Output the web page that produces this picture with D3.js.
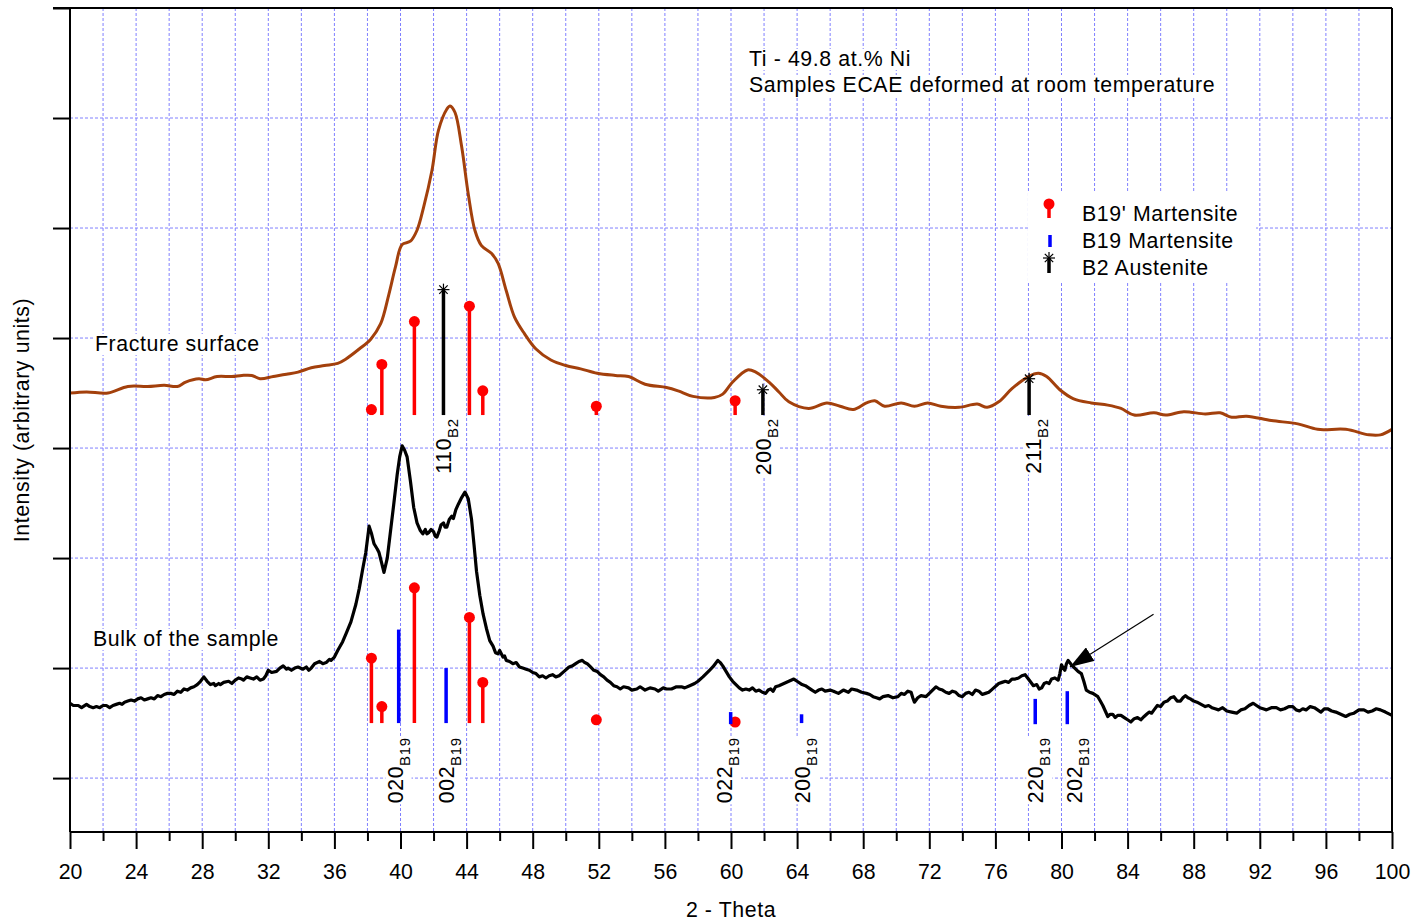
<!DOCTYPE html>
<html>
<head>
<meta charset="utf-8">
<script src="https://cdn.jsdelivr.net/npm/d3@7"></script>
<style>
  html, body { margin: 0; padding: 0; background: #fff; }
  svg { display: block; font-family: Arial, "Liberation Sans", sans-serif; }
</style>
</head>
<body>
<svg id="chart" width="1416" height="923"></svg>
<script>
// ---------------- DATA ----------------
const xTicks = [20,24,28,32,36,40,44,48,52,56,60,64,68,72,76,80,84,88,92,96,100];
const xMinorTicks = [22,26,30,34,38,42,46,50,54,58,62,66,70,74,78,82,86,90,94,98];
const yTicks = [0,100,200,300,400,500,600,700];

// Fracture surface pattern (2-theta, intensity)
const fractureCurve = [
  [20,350],[21,351],[22.3,350],[23.5,356],[24.7,356],[25.7,357],[26.5,356],[27,360],[27.8,363],[28.2,362],
  [28.9,365],[29.8,365],[30.4,366],[31,366],[31.5,363],[32.3,365],[33.1,367],[33.8,369],[34.6,373],[35.4,375],
  [36.2,377],[36.7,381],[37.5,390],[38.2,399],[38.8,413],[39.3,440],[39.7,465],[40.1,485],[40.6,488],[41.0,498],
  [41.4,519],[41.9,552],[42.3,589],[42.8,608],[43.0,611],[43.3,605],[43.7,574],[44.1,531],[44.5,498],[44.9,484],
  [45.5,477],[45.9,468],[46.4,443],[46.9,419],[47.5,404],[48.2,390],[49.1,380],[50,375],[50.9,372],[51.9,368],
  [53.0,366],[53.8,365],[54.8,358],[56.1,355],[56.8,352],[57.7,347],[59.0,346],[59.5,349],[60.1,360],[61.0,371],
  [61.5,369],[62.3,360],[62.9,351],[63.5,342],[64.7,336],[65.8,341],[66.6,338],[67.4,335],[68.2,341],[68.7,343],
  [69.3,338],[70.3,341],[71.1,338],[71.9,341],[72.7,338],[73.8,337],[74.9,340],[75.5,337],[76.2,342],[77.0,354],
  [78.0,365],[78.6,368],[79.1,365],[79.9,353],[80.7,345],[81.8,341],[82.8,339],[83.6,336],[84.4,330],[85.6,332],
  [86.3,330],[87.4,333],[88.7,331],[89.6,332],[90.3,328],[91.2,329],[92.7,325],[94.3,322],[95.5,317],[97.2,317],
  [98.6,312],[99.3,312],[100,317]
];

// Bulk of the sample pattern (2-theta, intensity)
const bulkCurve = [
  [20,68],[20.2,66],[20.5,66],[20.7,64],[21,67],[21.2,65],[21.4,64],[21.6,65],[21.8,64],[22.0,66],[22.2,66],[22.4,64],
  [22.6,66],[22.8,67],[23.0,68],[23.15,67],[23.3,69],[23.5,70],[23.7,71],[23.9,70],[24.1,72],[24.3,73],[24.5,71],
  [24.7,72],[24.9,73],[25.1,72],[25.3,75],[25.5,74],[25.7,76],[25.9,77],[26.1,77],[26.3,76],[26.5,79],[26.7,78],
  [26.9,81],[27.1,80],[27.3,82],[27.5,83],[27.7,85],[27.9,88],[28.1,92],[28.3,88],[28.5,85],[28.7,86],[28.8,84],
  [29.0,86],[29.1,85],[29.3,87],[29.6,88],[29.8,86],[30.0,89],[30.2,91],[30.4,90],[30.5,89],[30.7,92],[30.9,91],
  [31.1,90],[31.3,92],[31.5,89],[31.7,90],[31.85,93],[32.0,98],[32.2,96],[32.5,97],[32.7,100],[32.9,102],[33.1,99],
  [33.2,100],[33.4,98],[33.6,100],[33.8,101],[34.1,99],[34.3,101],[34.45,98],[34.6,100],[34.8,104],[35.1,106],
  [35.3,104],[35.5,105],[35.7,108],[35.8,107],[36.0,110],[36.2,116],[36.5,124],[36.7,131],[37.0,142],[37.3,158],
  [37.5,172],[37.7,189],[37.9,205],[38.1,229],[38.25,222],[38.4,213],[38.6,208],[38.7,205],[38.85,196],[39.0,187],
  [39.2,200],[39.4,225],[39.6,250],[39.8,276],[39.95,292],[40.1,302],[40.25,298],[40.4,292],[40.6,270],[40.8,246],
  [41.0,232],[41.2,225],[41.35,222],[41.5,226],[41.6,222],[41.7,223],[41.85,226],[42.0,224],[42.1,220],[42.2,219],
  [42.35,225],[42.45,230],[42.6,232],[42.7,228],[42.8,228],[42.95,235],[43.1,238],[43.2,236],[43.35,244],[43.5,249],
  [43.7,255],[43.9,260],[44.1,254],[44.3,235],[44.45,212],[44.6,188],[44.8,166],[45.0,149],[45.2,136],[45.4,125],
  [45.6,120],[45.75,114],[45.9,113],[46.0,116],[46.2,110],[46.3,111],[46.4,107],[46.6,106],[46.8,104],[47.0,105],
  [47.2,101],[47.4,100],[47.6,99],[47.8,98],[48.0,96],[48.2,95],[48.4,92],[48.6,93],[48.8,91],[49.0,93],[49.2,94],
  [49.4,92],[49.6,93],[49.9,97],[50.2,101],[50.4,102],[50.6,104],[50.8,106],[51.0,107],[51.15,105],[51.3,104],
  [51.5,101],[51.7,98],[51.9,97],[52.1,94],[52.3,92],[52.5,89],[52.7,87],[52.9,84],[53.1,83],[53.3,81],[53.5,83],
  [53.8,82],[54.0,80],[54.3,81],[54.5,83],[54.8,80],[55.1,82],[55.4,81],[55.6,79],[55.9,82],[56.1,81],[56.4,81],
  [56.7,83],[57.0,83],[57.2,82],[57.5,84],[57.8,86],[58.0,88],[58.3,92],[58.5,95],[58.7,98],[58.9,101],[59.05,104],
  [59.2,107],[59.35,105],[59.5,102],[59.7,97],[59.9,92],[60.1,88],[60.3,85],[60.5,82],[60.7,80],[60.9,81],[61.1,80],
  [61.3,82],[61.5,79],[61.7,80],[61.9,78],[62.1,77],[62.25,80],[62.4,81],[62.55,79],[62.7,83],[62.9,84],[63.2,86],
  [63.5,88],[63.8,90],[64.0,88],[64.3,85],[64.5,84],[64.7,82],[64.9,80],[65.1,78],[65.3,80],[65.5,81],[65.7,79],
  [66.0,80],[66.2,79],[66.5,77],[66.8,80],[67.1,78],[67.3,81],[67.6,80],[67.9,78],[68.2,77],[68.4,76],[68.6,74],
  [68.8,73],[69.0,72],[69.2,74],[69.5,75],[69.8,73],[70.1,74],[70.3,77],[70.5,76],[70.7,79],[70.9,78],[71.0,73],
  [71.1,69],[71.3,73],[71.5,75],[71.8,74],[72.0,77],[72.2,80],[72.4,83],[72.6,81],[72.8,80],[73.0,78],[73.2,77],
  [73.4,79],[73.6,78],[73.8,75],[74.0,74],[74.2,77],[74.4,78],[74.6,76],[74.8,80],[75.0,79],[75.2,76],[75.4,77],
  [75.6,78],[75.75,80],[75.9,82],[76.05,84],[76.2,86],[76.4,87],[76.6,88],[76.8,87],[77.0,90],[77.2,90],[77.4,91],
  [77.6,93],[77.8,94],[77.95,91],[78.1,88],[78.3,84],[78.5,85],[78.65,81],[78.8,82],[78.95,86],[79.1,87],[79.25,86],
  [79.4,90],[79.6,91],[79.8,89],[79.9,95],[80.0,103],[80.1,100],[80.2,98],[80.3,104],[80.4,107],[80.6,103],
  [80.8,100],[81.0,97],[81.2,95],[81.35,88],[81.5,80],[81.7,78],[81.9,77],[82.2,74],[82.35,70],[82.5,66],[82.65,61],
  [82.8,56],[82.95,58],[83.1,58],[83.25,55],[83.4,57],[83.6,57],[83.8,55],[84.0,53],[84.2,51],[84.4,54],[84.6,55],
  [84.8,53],[85.0,56],[85.15,58],[85.3,60],[85.45,59],[85.6,62],[85.8,66],[86.0,65],[86.2,69],[86.4,70],[86.6,73],
  [86.8,74],[87.0,70],[87.2,70],[87.35,73],[87.5,75],[87.65,73],[87.8,72],[88.0,70],[88.2,69],[88.45,67],[88.7,65],
  [88.9,66],[89.1,64],[89.3,63],[89.5,62],[89.75,64],[90.0,61],[90.3,60],[90.6,59],[90.85,62],[91.1,63],[91.35,66],
  [91.6,68],[91.8,66],[92.0,64],[92.2,63],[92.4,62],[92.7,64],[93.0,64],[93.25,62],[93.5,63],[93.75,65],[94.0,65],
  [94.2,62],[94.4,61],[94.6,63],[94.8,62],[95.05,65],[95.3,64],[95.5,62],[95.7,60],[95.9,63],[96.1,63],[96.35,61],
  [96.6,60],[96.9,58],[97.2,56],[97.45,58],[97.7,59],[98.0,62],[98.3,62],[98.55,60],[98.8,61],[99.05,63],[99.3,62],
  [99.6,60],[100,57]
];

// B19' martensite reflections (2-theta) and stick top intensities
const b19pTheta = [38.24, 38.87, 40.84, 44.17, 44.98, 51.85, 60.25];
const b19pFracture = [335, 376, 415, 429, 352, 338, 343];
const b19pBulk = [109, 65, 173, 146, 87, 53, 51];
const fractureBase = 330;
const bulkBase = 50;

// B19 martensite reflections (bulk)
const b19Theta = [39.89, 42.76, 59.98, 64.27, 78.41, 80.35];
const b19Top = [135, 100, 60, 58, 72, 79];
const b19Bottom = [50, 50, 49, 50, 49, 49];

// B2 austenite reflections (fracture)
const b2Theta = [42.6, 61.93, 78.04];
const b2Top = [444, 353, 363];

// Reflection labels
const labelMain = ["110", "200", "211", "020", "002", "022", "200", "220", "202"];
const labelSub  = ["B2", "B2", "B2", "B19", "B19", "B19", "B19", "B19", "B19"];
const labelTheta = [42.57, 61.94, 78.27, 39.65, 42.78, 59.6, 64.33, 78.43, 80.79];
const labelEnd = [327, 327, 327, 37, 37, 37, 37, 37, 37];

// Arrow annotation (from, to) in data units
const arrowFrom = [85.57, 149];
const arrowTo = [80.51, 101];

const legendItems = ["B19' Martensite", "B19 Martensite", "B2 Austenite"];
const titleLines = ["Ti - 49.8 at.% Ni", "Samples ECAE deformed at room temperature"];

// ---------------- CHART ----------------
const svg = d3.select("#chart");
const x = d3.scaleLinear().domain([20, 100]).range([70, 1392]);
const y = d3.scaleLinear().domain([-49, 700]).range([832, 8]);

const RED = "#ff0000", BLUE = "#0000ff", BROWN = "#a3400c";
const FONT = 21.3;
const LS = 0.6;

// grid
const grid = svg.append("g");
grid.selectAll("line.v").data(d3.range(22, 100, 2)).join("line")
  .attr("x1", d => x(d)).attr("x2", d => x(d)).attr("y1", y(700)).attr("y2", y(-49))
  .attr("stroke", "#8080ff").attr("stroke-width", 1).attr("stroke-dasharray", "3,2");
grid.selectAll("line.h").data(yTicks.filter(d => d < 700)).join("line")
  .attr("x1", x(20)).attr("x2", x(100)).attr("y1", d => y(d)).attr("y2", d => y(d))
  .attr("stroke", "#8080ff").attr("stroke-width", 1).attr("stroke-dasharray", "3,2");

// curves
const lineGen = d3.line().x(d => x(d[0])).y(d => y(d[1]));
svg.append("path").datum(fractureCurve)
  .attr("d", lineGen.curve(d3.curveCatmullRom.alpha(0.5)))
  .attr("fill", "none").attr("stroke", BROWN).attr("stroke-width", 3).attr("stroke-linejoin", "round");
svg.append("path").datum(bulkCurve)
  .attr("d", d3.line().x(d => x(d[0])).y(d => y(d[1])))
  .attr("fill", "none").attr("stroke", "#000").attr("stroke-width", 3.2).attr("stroke-linejoin", "round");

// sticks
function redSticks(tops, base) {
  const g = svg.append("g");
  b19pTheta.forEach((t, i) => {
    g.append("line").attr("x1", x(t)).attr("x2", x(t)).attr("y1", y(base)).attr("y2", y(tops[i]))
      .attr("stroke", RED).attr("stroke-width", 3.5);
    g.append("circle").attr("cx", x(t)).attr("cy", y(tops[i])).attr("r", 5.5).attr("fill", RED);
  });
}
redSticks(b19pFracture, fractureBase);
redSticks(b19pBulk, bulkBase);

svg.append("g").selectAll("line").data(b19Theta).join("line")
  .attr("x1", d => x(d)).attr("x2", d => x(d))
  .attr("y1", (d, i) => y(b19Bottom[i])).attr("y2", (d, i) => y(b19Top[i]))
  .attr("stroke", BLUE).attr("stroke-width", 3.5);

function asterisk(g, cx, cy, s) {
  const d = s * 0.7;
  [[-s,0,s,0],[0,-s,0,s],[-d,-d,d,d],[-d,d,d,-d]].forEach(p => {
    g.append("line").attr("x1", cx+p[0]).attr("y1", cy+p[1]).attr("x2", cx+p[2]).attr("y2", cy+p[3])
      .attr("stroke", "#000").attr("stroke-width", 1.2);
  });
}
const b2g = svg.append("g");
b2Theta.forEach((t, i) => {
  b2g.append("line").attr("x1", x(t)).attr("x2", x(t)).attr("y1", y(fractureBase)).attr("y2", y(b2Top[i]))
    .attr("stroke", "#000").attr("stroke-width", 3.5);
  asterisk(b2g, x(t), y(b2Top[i]), 6);
});

// labels with white background
function bgText(g, pad) {
  const bb = g.select("text").node().getBBox();
  g.insert("rect", "text").attr("x", bb.x - pad).attr("y", bb.y + 2).attr("width", bb.width + 2*pad)
    .attr("height", bb.height - 3).attr("fill", "#fff");
}
labelMain.forEach((m, i) => {
  const g = svg.append("g").attr("transform", `translate(${x(labelTheta[i]) + 7.8},${y(labelEnd[i])}) rotate(-90)`);
  const t = g.append("text").attr("text-anchor", "end").attr("font-size", FONT).attr("fill", "#000")
    .attr("letter-spacing", LS);
  t.append("tspan").text(m);
  t.append("tspan").attr("font-size", 15).attr("dy", 7).text(labelSub[i]);
  bgText(g, 1);
});

// arrow
svg.append("defs").append("marker").attr("id", "ah").attr("viewBox", "0 0 24 16")
  .attr("refX", 24).attr("refY", 8).attr("markerWidth", 24).attr("markerHeight", 16)
  .attr("markerUnits", "userSpaceOnUse").attr("orient", "auto")
  .append("path").attr("d", "M0,0 L24,8 L0,16 Z").attr("fill", "#000");
svg.append("line").attr("x1", x(arrowFrom[0])).attr("y1", y(arrowFrom[1]))
  .attr("x2", x(arrowTo[0])).attr("y2", y(arrowTo[1]))
  .attr("stroke", "#000").attr("stroke-width", 1.2).attr("marker-end", "url(#ah)");

// text annotations
function label(txt, px, py) {
  const g = svg.append("g");
  g.append("text").attr("x", px).attr("y", py).attr("font-size", FONT).attr("letter-spacing", LS)
    .attr("fill", "#000").text(txt);
  bgText(g, 2);
}
label("Fracture surface", 95, 351);
label("Bulk of the sample", 93, 646);
label(titleLines[0], 749, 66);
label(titleLines[1], 749, 92);

// legend
const lg = svg.append("g");
lg.append("rect").attr("x", 1028).attr("y", 193).attr("width", 228).attr("height", 90).attr("fill", "#fff");
lg.append("line").attr("x1", 1049).attr("x2", 1049).attr("y1", 204).attr("y2", 218).attr("stroke", RED).attr("stroke-width", 3.5);
lg.append("circle").attr("cx", 1049).attr("cy", 204).attr("r", 5.5).attr("fill", RED);
lg.append("line").attr("x1", 1050).attr("x2", 1050).attr("y1", 235).attr("y2", 247).attr("stroke", BLUE).attr("stroke-width", 3.5);
lg.append("line").attr("x1", 1049).attr("x2", 1049).attr("y1", 258).attr("y2", 273).attr("stroke", "#000").attr("stroke-width", 3.5);
asterisk(lg, 1049, 258, 6);
legendItems.forEach((t, i) => {
  lg.append("text").attr("x", 1082).attr("y", 221 + i*27).attr("font-size", FONT).attr("letter-spacing", LS)
    .attr("fill", "#000").text(t);
});

// axes
const ax = svg.append("g").attr("stroke", "#000").attr("stroke-width", 2);
ax.append("line").attr("x1", 53).attr("x2", x(100)).attr("y1", y(700)).attr("y2", y(700));
ax.append("line").attr("x1", x(20)).attr("x2", x(20)).attr("y1", y(700)).attr("y2", y(-49));
ax.append("line").attr("x1", x(100)).attr("x2", x(100)).attr("y1", y(700)).attr("y2", y(-49));
ax.append("line").attr("x1", x(20)).attr("x2", x(100)).attr("y1", y(-49)).attr("y2", y(-49));

const yAxis = svg.append("g").attr("transform", `translate(${x(20)},0)`)
  .call(d3.axisLeft(y).tickValues(yTicks).tickSize(17).tickFormat(""));
yAxis.select(".domain").remove();
yAxis.selectAll("line").attr("stroke", "#000").attr("stroke-width", 2);

const xAxis = svg.append("g").attr("transform", `translate(0,${y(-49)})`)
  .call(d3.axisBottom(x).tickValues(xTicks).tickSize(17).tickPadding(15).tickFormat(d3.format("d")));
xAxis.select(".domain").remove();
xAxis.selectAll("line").attr("stroke", "#000").attr("stroke-width", 2);
xAxis.selectAll("text").attr("font-size", FONT).attr("font-family", "Arial, 'Liberation Sans', sans-serif").attr("fill", "#000");

const xMinor = svg.append("g").attr("transform", `translate(0,${y(-49)})`)
  .call(d3.axisBottom(x).tickValues(xMinorTicks).tickSize(9).tickFormat(""));
xMinor.select(".domain").remove();
xMinor.selectAll("line").attr("stroke", "#000").attr("stroke-width", 2);

svg.append("text").attr("x", (x(20) + x(100)) / 2).attr("y", 917).attr("text-anchor", "middle")
  .attr("font-size", FONT).attr("letter-spacing", LS).attr("fill", "#000").text("2 - Theta");
svg.append("text").attr("transform", `translate(29,${420}) rotate(-90)`).attr("text-anchor", "middle")
  .attr("font-size", FONT).attr("letter-spacing", LS).attr("fill", "#000").text("Intensity (arbitrary units)");
</script>
</body>
</html>
